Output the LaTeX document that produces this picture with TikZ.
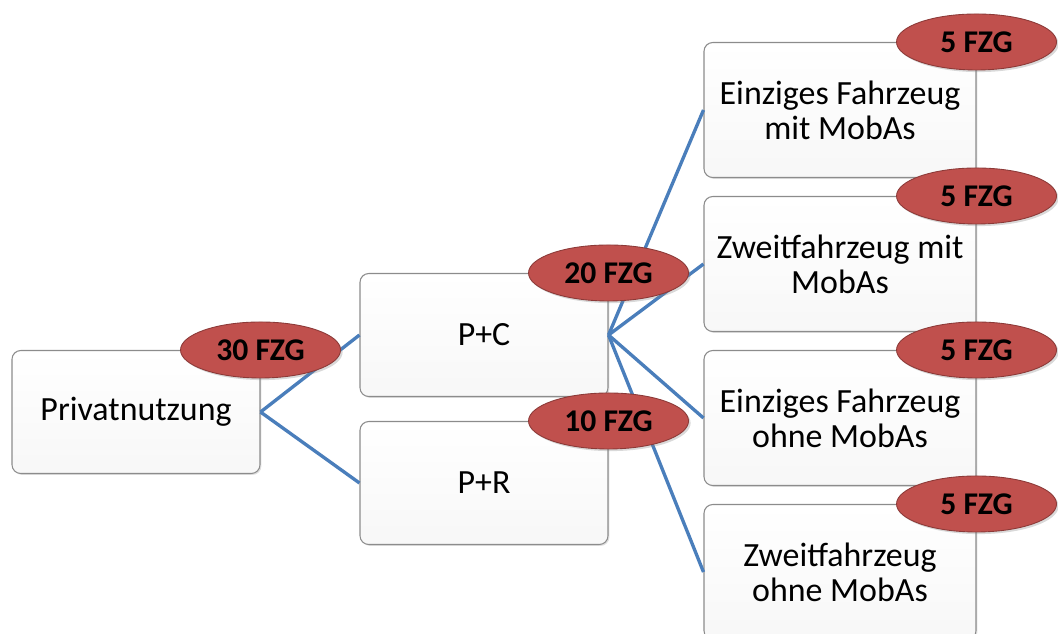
\documentclass[tikz,border=0pt]{standalone}
\usepackage{fontspec}
\setmainfont{Carlito}
\usetikzlibrary{shapes.geometric,shadows,positioning}
\definecolor{fzgred}{HTML}{C0504D}
\definecolor{fzgborder}{HTML}{8C3A38}
\definecolor{linkblue}{HTML}{4A7EBB}
\definecolor{boxgray}{HTML}{8C8C8C}

\begin{document}
\begin{tikzpicture}[x=0.02cm, y=-0.02cm,
    stage/.style={draw=boxgray, line width=0.6pt, rounded corners=5pt,
      top color=white, bottom color=black!3,
      drop shadow={shadow xshift=0.8pt, shadow yshift=-0.8pt, opacity=0.25},
      minimum width=248*0.02cm, minimum height=123*0.02cm,
      align=center, font=\fontsize{19.3}{20}\selectfont},
    leaf/.style={stage, minimum width=272*0.02cm, minimum height=135*0.02cm},
    count/.style={ellipse, fill=fzgred, draw=fzgborder, line width=0.5pt,
      drop shadow={shadow xshift=1.2pt, shadow yshift=-1.2pt, opacity=0.3},
      minimum width=160*0.02cm, minimum height=56*0.02cm, inner sep=0pt,
      font=\bfseries\fontsize{18}{20}\selectfont},
    link/.style={linkblue, line width=1.9pt}]
  \clip (0,0) rectangle (1058,633);
  \useasboundingbox (0,0) rectangle (1058,633);
  % Stufen
  \node[stage] (priv) at (136,412) {Privatnutzung};
  \node[stage] (pc) at (484,335) {P+C};
  \node[stage] (pr) at (484,483) {P+R};
  \node[leaf] (l1) at (840,110) {Einziges Fahrzeug\\mit MobAs};
  \node[leaf] (l2) at (840,264) {Zweitfahrzeug mit\\MobAs};
  \node[leaf] (l3) at (840,418) {Einziges Fahrzeug\\ohne MobAs};
  \node[leaf] (l4) at (840,572) {Zweitfahrzeug\\ohne MobAs};
  % Verbindungen
  \draw[link] (priv.east) -- (pc.west);
  \draw[link] (priv.east) -- (pr.west);
  \foreach \l in {l1,l2,l3,l4}
    \draw[link] (pc.east) -- (\l.west);
  % Anzahl Fahrzeuge
  \node[count] (n30) at (priv.north east) {30 FZG};
  \node[count] (n20) at (pc.north east) {20 FZG};
  \node[count] (n10) at (pr.north east) {10 FZG};
  \foreach \l in {l1,l2,l3,l4}
    \node[count] (n\l) at (\l.north east) {5 FZG};
\end{tikzpicture}
\end{document}
